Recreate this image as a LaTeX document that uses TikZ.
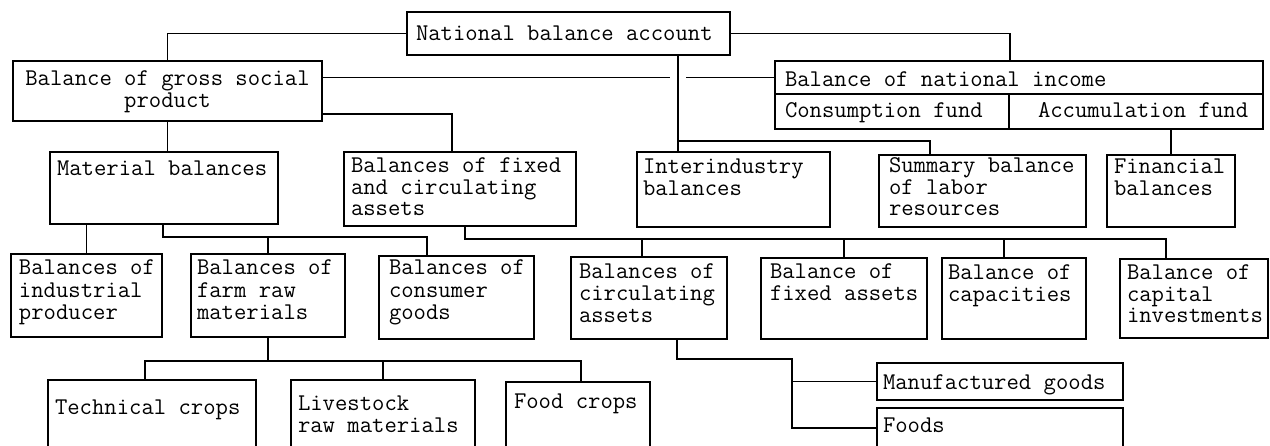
\documentclass[tikz,border=0pt]{standalone}
\usepackage{fontspec}
\newcommand\monof[1]{\fontsize{24}{#1}\selectfont\ttfamily}
\tikzset{
  boxst/.style={draw, line width=1.9pt, inner sep=0pt, outer sep=0pt, anchor=north west},
  txt/.style={inner sep=0pt, outer sep=0pt, anchor=north west, align=left,
              font=\monof{21.5}, execute at begin node=\rule{0pt}{18pt}},
  link/.style={line width=1.9pt}
}
\begin{document}
\begin{tikzpicture}[x=1pt, y=-1pt, line join=miter]
\useasboundingbox (0,0) rectangle (1270,446);

% ---- boxes (top-left corner, width, height) ----
\node[boxst, minimum width=323pt, minimum height=43pt] (nba)     at (407,12)  {};
\node[boxst, minimum width=309pt, minimum height=60pt] (gross)   at (13,61)   {};
\node[boxst, minimum width=488pt, minimum height=33pt] (nititle) at (775,61)  {};
\node[boxst, minimum width=234pt, minimum height=35pt] (cons)    at (775,94)  {};
\node[boxst, minimum width=254pt, minimum height=35pt] (accum)   at (1009,94) {};
\node[boxst, minimum width=228pt, minimum height=72pt] (mat)     at (50,152)  {};
\node[boxst, minimum width=232pt, minimum height=74pt] (fixcirc) at (344,152) {};
\node[boxst, minimum width=193pt, minimum height=75pt] (inter)   at (637,152) {};
\node[boxst, minimum width=207pt, minimum height=72pt] (summary) at (879,155) {};
\node[boxst, minimum width=128pt, minimum height=72pt] (fin)     at (1107,155){};
\node[boxst, minimum width=151pt, minimum height=83pt] (ind)     at (11,254)  {};
\node[boxst, minimum width=154pt, minimum height=83pt] (farm)    at (191,254) {};
\node[boxst, minimum width=155pt, minimum height=83pt] (consg)   at (379,256) {};
\node[boxst, minimum width=156pt, minimum height=82pt] (circ)    at (571,257) {};
\node[boxst, minimum width=166pt, minimum height=81pt] (fixa)    at (761,258) {};
\node[boxst, minimum width=144pt, minimum height=81pt] (capac)   at (942,258) {};
\node[boxst, minimum width=148pt, minimum height=79pt] (capinv)  at (1120,259){};
\node[boxst, minimum width=208pt, minimum height=69pt] (tech)    at (48,380)  {};
\node[boxst, minimum width=184pt, minimum height=69pt] (live)    at (291,380) {};
\node[boxst, minimum width=144pt, minimum height=67pt] (food)    at (506,382) {};
\node[boxst, minimum width=246pt, minimum height=37pt] (manuf)   at (877,363) {};
\node[boxst, minimum width=246pt, minimum height=40pt] (foods)   at (877,408) {};

% ---- labels ----
\node[txt] (nba-t) at (416,23) {National balance account};
\node[txt, anchor=north, align=center] (gross-t) at (167.5,71) {Balance of gross social\\product};
\node[txt] (nititle-t) at (785,69)  {Balance of national income};
\node[txt] (cons-t)    at (785,100) {Consumption fund};
\node[txt] (accum-t)   at (1038,100){Accumulation fund};
\node[txt] (mat-t)     at (57,158)  {Material balances};
\node[txt] (fixcirc-t) at (351,158) {Balances of fixed\\and circulating\\assets};
\node[txt] (inter-t)   at (643,159) {Interindustry\\balances};
\node[txt] (summary-t) at (889,158) {Summary balance\\of labor\\resources};
\node[txt] (fin-t)     at (1114,159) {Financial\\balances};
\node[txt, font=\monof{22.3}] (ind-t)   at (19,260)  {Balances of\\industrial\\producer};
\node[txt, font=\monof{22.3}] (farm-t)  at (197,260) {Balances of\\farm raw\\materials};
\node[txt, font=\monof{22.3}] (consg-t) at (389,260) {Balances of\\consumer\\goods};
\node[txt, font=\monof{21.7}] (circ-t)  at (579,264) {Balances of\\circulating\\assets};
\node[txt, font=\monof{21.7}] (fixa-t)  at (770,264) {Balance of\\fixed assets};
\node[txt] (capac-t)   at (948,265) {Balance of\\capacities};
\node[txt] (capinv-t)  at (1127,265) {Balance of\\capital\\investments};
\node[txt] (tech-t)    at (55,397)  {Technical crops};
\node[txt] (live-t)    at (298,396) {Livestock\\raw materials};
\node[txt] (food-t)    at (514,391) {Food crops};
\node[txt] (manuf-t)   at (883,372) {Manufactured goods};
\node[txt] (foods-t)   at (883,414) {Foods};

% ---- bend points of the connectors ----
\coordinate (spine)     at (678,100);
\coordinate (hopL)      at (670,0);
\coordinate (hopR)      at (686,0);
\coordinate (nidrop)    at (1010,0);
\coordinate (fcbend)    at (452,114);
\coordinate (sumbend)   at (930,141);
\coordinate (matbus)    at (163,237);
\coordinate (matbusend) at (427,237);
\coordinate (fcbus)     at (465,239);
\coordinate (fcbusend)  at (1166,239);
\coordinate (xcirc)     at (642,0);
\coordinate (xcap)      at (1004,0);
\coordinate (cbus)      at (677,359);
\coordinate (cfork)     at (792,359);
\coordinate (fbusL)     at (145,361);
\coordinate (fbusR)     at (581,361);

% ---- connectors ----
\draw[link] (nba.west) -| (gross.north);
\draw[link] (nba.east) -| (nidrop |- nititle.north);
\draw[link] (nba.south -| spine) -- (spine |- inter.north);
\draw[link] (gross.east |- nititle.west) -- (hopL |- nititle.west);
\draw[link] (hopR |- nititle.west) -- (nititle.west);
\draw[link] (gross.east |- fcbend) -- (fcbend) -- (fcbend |- fixcirc.north);
\draw[link] (gross.south) -- (gross.south |- mat.north);
\draw[link] (spine |- sumbend) -- (sumbend) -- (sumbend |- summary.north);
\draw[link] (fin.north) -- (fin.north |- accum.south);

\draw[link] (ind.north) -- (ind.north |- mat.south);
\draw[link] (mat.south -| matbus) -- (matbus) -- (matbusend) -- (matbusend |- consg.north);
\draw[link] (farm.north |- matbus) -- (farm.north);

\draw[link] (fixcirc.south -| fcbus) -- (fcbus) -- (fcbusend) -- (fcbusend |- capinv.north);
\draw[link] (xcirc |- fcbus) -- (xcirc |- circ.north);
\draw[link] (fixa.north |- fcbus) -- (fixa.north);
\draw[link] (xcap |- fcbus) -- (xcap |- capac.north);

\draw[link] (circ.south -| cbus) -- (cbus) -- (cfork) -- (cfork |- foods.west) -- (foods.west);
\draw[link] (cfork |- manuf.west) -- (manuf.west);

\draw[link] (farm.south) -- (farm.south |- fbusL);
\draw[link] (fbusL |- tech.north) -- (fbusL) -- (fbusR) -- (fbusR |- food.north);
\draw[link] (live.north |- fbusL) -- (live.north);
\end{tikzpicture}
\end{document}
